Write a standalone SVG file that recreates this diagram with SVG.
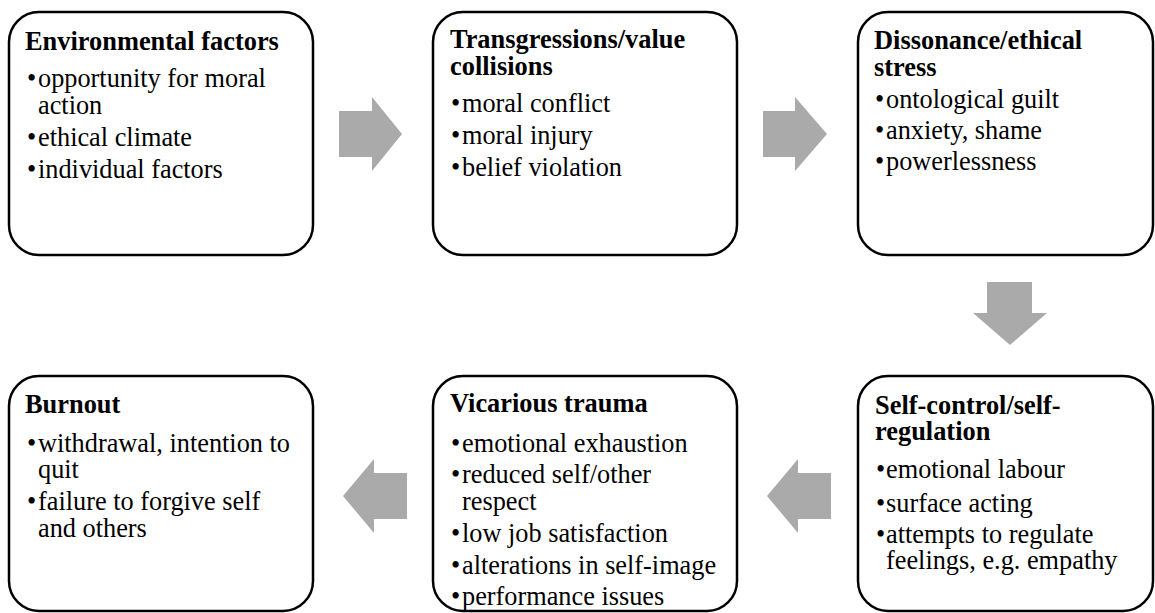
<svg xmlns="http://www.w3.org/2000/svg" width="1155" height="613" viewBox="0 0 1155 613">
<style>
.box{fill:#fff;stroke:#000;stroke-width:2.5}
.h{font-family:"Times New Roman","Liberation Serif",Times,serif;font-weight:700;font-size:26.4px;fill:#000}
.t{font-family:"Times New Roman","Liberation Serif",Times,serif;font-weight:400;font-style:normal;font-size:26.3px;fill:#000}
.arr{fill:#AAAAAA;stroke:none}
</style>
<rect width="1155" height="613" fill="#fff"/>
<g id="connectors">
<path class="arr" d="M339,111 H372 V97 L402,134 L372,171 V157 H339 Z"/>
<path class="arr" d="M763,111 H795 V97 L827,134 L795,171 V157 H763 Z"/>
<path class="arr" d="M987,282 H1032 V313 H1047 L1010,345 L973,313 H987 Z"/>
<path class="arr" d="M831,473 H798 V459 L767,496 L798,533 V519 H831 Z"/>
<path class="arr" d="M407,473 H374 V459 L343,496 L374,533 V519 H407 Z"/>
</g>
<g id="n1">
<rect class="box" x="9" y="12" width="304" height="243" rx="30"/>
<text class="h" x="25" y="50">Environmental factors</text>
<text class="t" x="27" y="87">•</text><text class="t" x="38" y="87">opportunity for moral</text>
<text class="t" x="38" y="114">action</text>
<text class="t" x="27" y="146">•</text><text class="t" x="38" y="146">ethical climate</text>
<text class="t" x="27" y="178">•</text><text class="t" x="38" y="178">individual factors</text>
</g>
<g id="n2">
<rect class="box" x="433" y="12" width="304" height="243" rx="30"/>
<text class="h" x="450" y="48">Transgressions/value</text>
<text class="h" x="450" y="75">collisions</text>
<text class="t" x="451" y="112">•</text><text class="t" x="462" y="112">moral conflict</text>
<text class="t" x="451" y="144">•</text><text class="t" x="462" y="144">moral injury</text>
<text class="t" x="451" y="176">•</text><text class="t" x="462" y="176">belief violation</text>
</g>
<g id="n3">
<rect class="box" x="858" y="12" width="295" height="243" rx="30"/>
<text class="h" x="874" y="49">Dissonance/ethical</text>
<text class="h" x="874" y="76">stress</text>
<text class="t" x="875" y="108">•</text><text class="t" x="886" y="108">ontological guilt</text>
<text class="t" x="875" y="139">•</text><text class="t" x="886" y="139">anxiety, shame</text>
<text class="t" x="875" y="170">•</text><text class="t" x="886" y="170">powerlessness</text>
</g>
<g id="n6">
<rect class="box" x="858" y="376" width="295" height="235" rx="30"/>
<text class="h" x="875" y="414">Self-control/self-</text>
<text class="h" x="875" y="440">regulation</text>
<text class="t" x="876" y="478">•</text><text class="t" x="886" y="478">emotional labour</text>
<text class="t" x="876" y="512">•</text><text class="t" x="886" y="512">surface acting</text>
<text class="t" x="876" y="543">•</text><text class="t" x="886" y="543">attempts to regulate</text>
<text class="t" x="886" y="569">feelings, e.g. empathy</text>
</g>
<g id="n5">
<rect class="box" x="433" y="376" width="304" height="235" rx="30"/>
<text class="h" x="450" y="412">Vicarious trauma</text>
<text class="t" x="451" y="452">•</text><text class="t" x="462" y="452">emotional exhaustion</text>
<text class="t" x="451" y="483">•</text><text class="t" x="462" y="483">reduced self/other</text>
<text class="t" x="462" y="510">respect</text>
<text class="t" x="451" y="542">•</text><text class="t" x="462" y="542">low job satisfaction</text>
<text class="t" x="451" y="574">•</text><text class="t" x="462" y="574">alterations in self-image</text>
<text class="t" x="451" y="605">•</text><text class="t" x="462" y="605">performance issues</text>
</g>
<g id="n4">
<rect class="box" x="9" y="376" width="304" height="235" rx="30"/>
<text class="h" x="25" y="413">Burnout</text>
<text class="t" x="27" y="452">•</text><text class="t" x="38" y="452">withdrawal, intention to</text>
<text class="t" x="38" y="478">quit</text>
<text class="t" x="27" y="510">•</text><text class="t" x="38" y="510">failure to forgive self</text>
<text class="t" x="38" y="537">and others</text>
</g>
</svg>
